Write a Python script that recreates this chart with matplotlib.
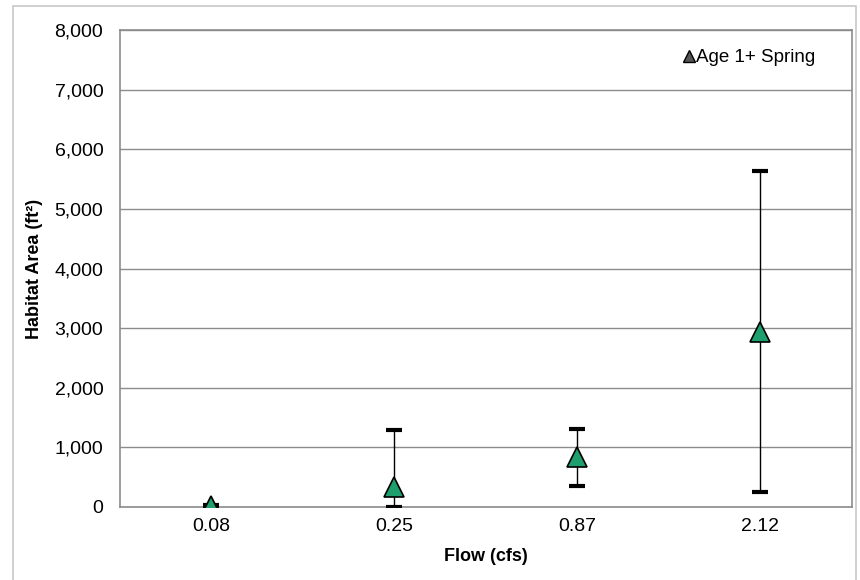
import numpy as np
import matplotlib.pyplot as plt
from matplotlib.patches import Rectangle

plt.rcParams['font.family'] = ['Liberation Sans', 'DejaVu Sans']

# Data
flows = ["0.08", "0.25", "0.87", "2.12"]
area = [15, 340, 840, 2930]
err_low = [0, 0, 350, 250]
err_high = [30, 1300, 1310, 5640]

x = np.arange(len(flows))
lower = np.array(area) - np.array(err_low)
upper = np.array(err_high) - np.array(area)

fig = plt.figure(figsize=(8.6, 5.8), dpi=100)
ax = fig.add_axes([0.1395, 0.1259, 0.851, 0.822])

# light frame round the whole chart
fig.patches.append(Rectangle((0.015, -0.01), 0.98, 1.0, transform=fig.transFigure,
                             fill=False, edgecolor='#c8c8c8', linewidth=1.2))

ax.errorbar(x, area, yerr=[lower, upper], fmt='none', ecolor='black',
            elinewidth=1, capsize=6, capthick=3, zorder=3)
ax.plot(x, area, linestyle='none', marker='^', markersize=14,
        markerfacecolor='#1f9e6e', markeredgecolor='black', markeredgewidth=1.2,
        zorder=4)

# legend entry
ax.plot([], [], linestyle='none', marker='^', markersize=8,
        markerfacecolor='#555555', markeredgecolor='black', label='Age 1+ Spring')
ax.legend(loc='upper right', bbox_to_anchor=(0.975, 1.0), frameon=False,
          fontsize=13.5, handletextpad=0.0, handlelength=0.7, borderaxespad=0.6)

ax.set_xlim(-0.5, 3.5)
ax.set_ylim(0, 8000)
ax.set_yticks(np.arange(0, 8001, 1000))
ax.set_yticklabels([f"{v:,}" for v in range(0, 8001, 1000)])
ax.set_xticks(x)
ax.set_xticklabels(flows)
ax.tick_params(axis='both', labelsize=14, length=0)
ax.tick_params(axis='y', pad=12)
ax.tick_params(axis='x', pad=8)
ax.yaxis.grid(True, color='#8c8c8c', linewidth=1)
ax.set_axisbelow(True)
for s in ax.spines.values():
    s.set_color('#8c8c8c')
    s.set_linewidth(1.2)

ax.set_xlabel("Flow (cfs)", fontsize=13, fontweight='bold', labelpad=9)
ax.set_ylabel("Habitat Area (ft²)", fontsize=13, fontweight='bold', labelpad=8)

fig.savefig("out.png", dpi=100)
